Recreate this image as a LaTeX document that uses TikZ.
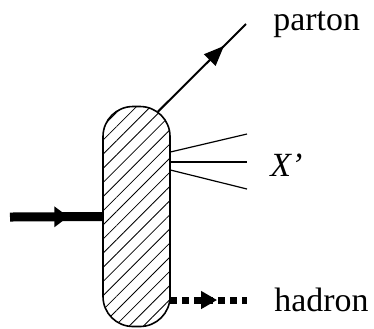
\documentclass[tikz,border=0pt]{standalone}
\usepackage{fontspec}
\setmainfont{Liberation Serif}
\usetikzlibrary{arrows.meta,decorations.markings,patterns.meta,calc}

\begin{document}
\begin{tikzpicture}[x=0.5bp, y=-0.5bp,
    lbl/.style={font=\fontsize{17}{20}\selectfont, anchor=base west, inner sep=0pt},
    midarrow/.style 2 args={postaction={decorate},
      decoration={markings, mark=at position #1 with {\arrow{#2}}}}]
    \useasboundingbox (0,0) rectangle (374,328);

    % Hatched blob
    \node[draw, line width=0.8bp, rounded corners=15bp, inner sep=0pt,
          minimum width=33.5bp, minimum height=110bp,
          pattern={Lines[angle=45,distance=5bp,line width=0.4bp]}] (blob) at (136.5,216.5) {};

    % Incoming line
    \coordinate (in) at (10,217);
    \draw[line width=4.5bp, midarrow={0.63}{Triangle[length=7bp,width=10bp]}] (in) -- (blob.west);

    % Outgoing parton
    \coordinate (pstart) at ($(blob.north)+(21.5,5.5)$);
    \coordinate (pend) at (246,24);
    \draw[line width=1bp, midarrow={0.75}{Triangle[length=10bp,width=8bp]}] (pstart) -- (pend);

    % Remnants X'
    \coordinate (x1) at (247,134);
    \coordinate (x2) at (247,162);
    \coordinate (x3) at (247,189);
    \draw[line width=0.6bp] (blob.east |- 0,152) -- (x1);
    \draw[line width=0.6bp] (blob.east |- 0,162) -- (x2);
    \draw[line width=0.6bp] (blob.east |- 0,170) -- (x3);

    % Hadron
    \coordinate (hend) at (247,300);
    \draw[line width=3.5bp, dash pattern=on 3.5bp off 2.5bp,
          midarrow={0.61}{Triangle[length=8bp,width=8.5bp]}] (blob.east |- hend) -- (hend);

    % Labels
    \node[lbl] (parton) at (273,30) {parton};
    \node[lbl] (xprime) at (270,176) {\textit{X’}};
    \node[lbl] (hadron) at (274,311) {hadron};
\end{tikzpicture}
\end{document}
